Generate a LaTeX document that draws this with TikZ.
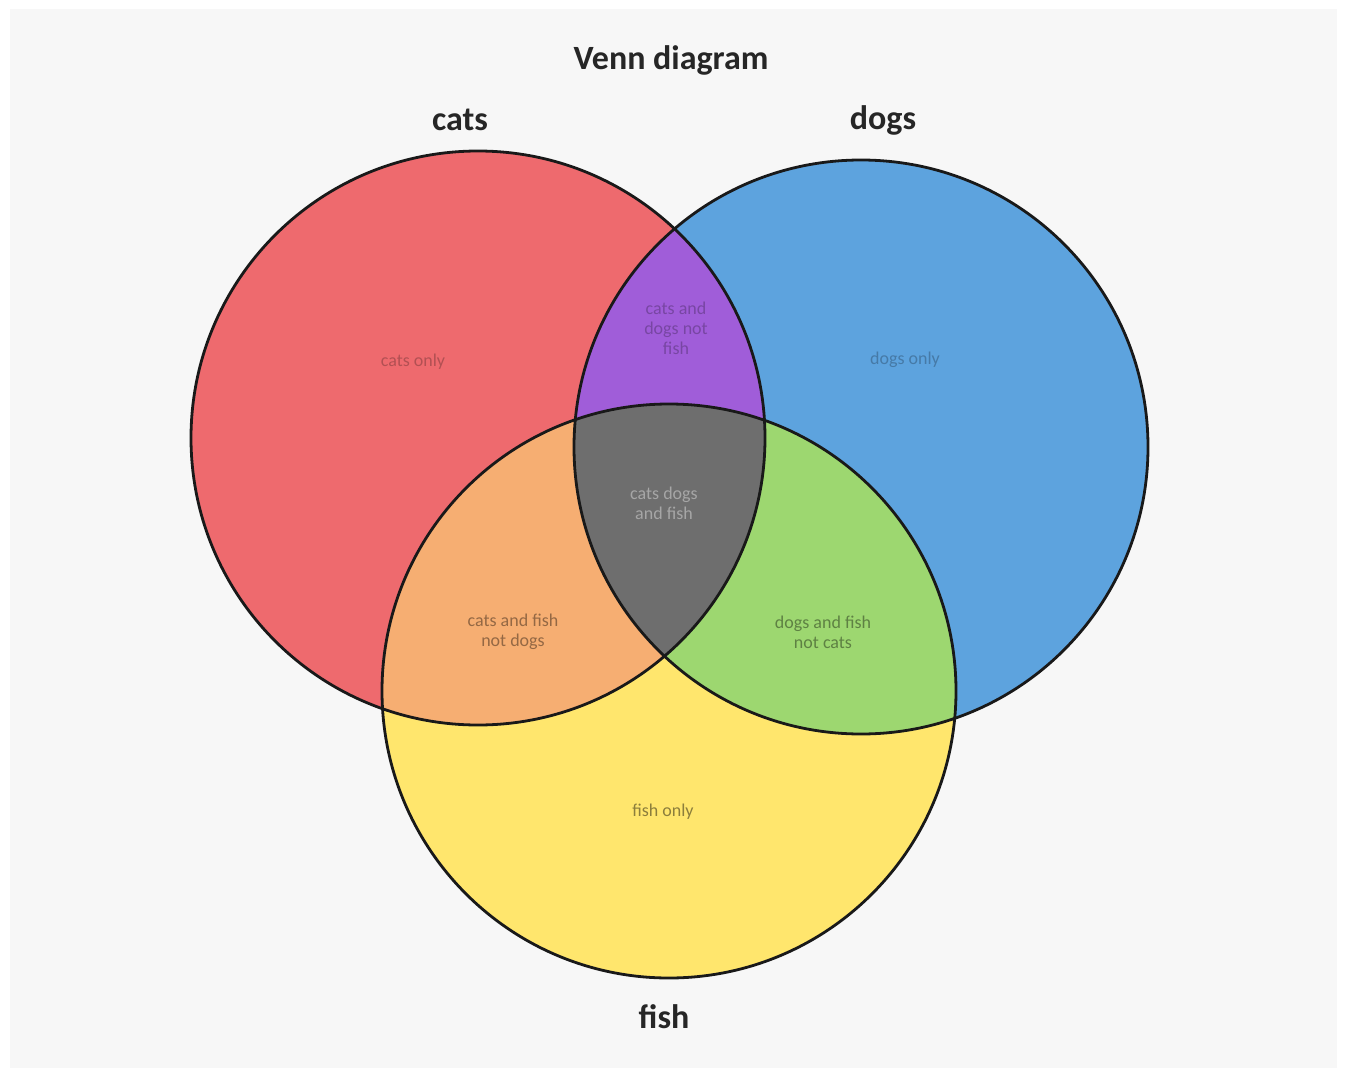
\documentclass[tikz,border=0pt]{standalone}
\usepackage{fontspec}
\setmainfont{Carlito}
\begin{document}
\begin{tikzpicture}[x=1pt,y=-1pt,
  lbl/.style={font=\fontsize{34}{38}\selectfont\bfseries, text=black!85},
  region/.style={font=\fontsize{18}{20}\selectfont, align=center},
  ring/.style={draw=black!90, line width=2.8pt}]
\useasboundingbox (0,0) rectangle (1347,1068);
\fill[white] (0,0) rectangle (1347,1068);
\fill[black!3] (10,9) rectangle (1337,1068);
\definecolor{cRed}{HTML}{EE6A6E}
\definecolor{cBlue}{HTML}{5DA3DE}
\definecolor{cYel}{HTML}{FFE66D}
\definecolor{cPur}{HTML}{A05DD9}
\definecolor{cOra}{HTML}{F6AE72}
\definecolor{cGre}{HTML}{9DD770}
\definecolor{cMid}{HTML}{6E6E6E}
\coordinate (C) at (478,438);
\coordinate (D) at (861,447);
\coordinate (F) at (669,691);
\def\R{287}
\fill[cRed] (C) circle (\R);
\fill[cBlue] (D) circle (\R);
\fill[cYel] (F) circle (\R);
\begin{scope}\clip (C) circle (\R); \fill[cPur] (D) circle (\R); \end{scope}
\begin{scope}\clip (C) circle (\R); \fill[cOra] (F) circle (\R); \end{scope}
\begin{scope}\clip (D) circle (\R); \fill[cGre] (F) circle (\R); \end{scope}
\begin{scope}\clip (C) circle (\R); \clip (D) circle (\R); \fill[cMid] (F) circle (\R); \end{scope}
\node[ring, circle, minimum size=574pt, inner sep=0pt] (cats) at (C) {};
\node[ring, circle, minimum size=574pt, inner sep=0pt] (dogs) at (D) {};
\node[ring, circle, minimum size=574pt, inner sep=0pt] (fish) at (F) {};
\node[lbl] (title) at (671,60) {Venn diagram};
\node[lbl] (lcats) at (460,120) {cats};
\node[lbl] (ldogs) at (883,120) {dogs};
\node[lbl] (lfish) at (664,1017) {fish};
\node[region, text=cRed!75!black] (rc) at (413,362) {cats only};
\node[region, text=cBlue!75!black] (rd) at (905,360) {dogs only};
\node[region, text=cPur!75!black] (rcd) at (676,328) {cats and\\dogs not\\fish};
\node[region, text=black!35] (rcdf) at (664,503) {cats dogs\\and fish};
\node[region, text=cOra!60!black] (rcf) at (513,632) {cats and fish\\not dogs};
\node[region, text=cGre!60!black] (rdf) at (823,632) {dogs and fish\\not cats};
\node[region, text=cYel!55!black] (rf) at (663,812) {fish only};
\end{tikzpicture}
\end{document}
